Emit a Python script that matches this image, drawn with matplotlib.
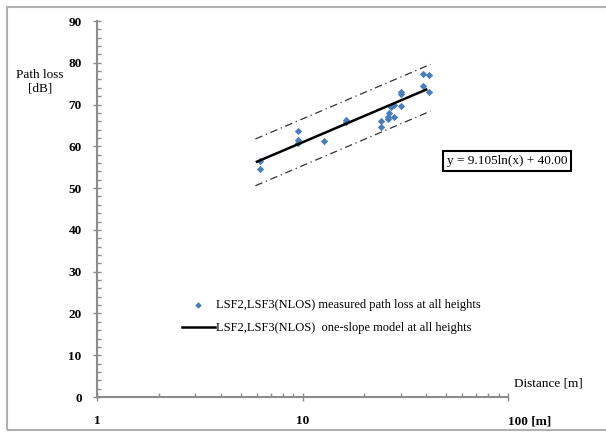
import numpy as np
import matplotlib.pyplot as plt
from matplotlib.patches import Rectangle
from matplotlib.ticker import FixedLocator, FixedFormatter, MultipleLocator

# measured path loss (NLOS, all heights)
dist = [6.2, 6.2, 9.5, 9.5, 9.5, 12.7, 16.3, 16.3, 24.0, 24.0,
        26.2, 26.5, 27.0, 27.8, 27.8, 26.2, 30.3, 30.3, 30.3,
        38.5, 38.5, 41.4, 41.4]
loss = [56.5, 54.5, 63.6, 61.6, 60.8, 61.2, 66.4, 65.8, 66.1, 64.7,
        67.0, 67.9, 69.5, 69.9, 67.0, 66.5, 73.0, 72.6, 69.6,
        77.4, 74.4, 77.0, 73.0]

# one-slope model y = a ln(x) + b, with +/- band
slope = 9.105
intercept = 40.00
band = 5.6
model_range = (6.0, 40.0)
band_range = (5.9, 42.0)

xticks = [1, 10, 100]
xticklabels = ['1', '10', '100 [m]']

serif = ['Liberation Serif', 'DejaVu Serif']
grey = '#8c8c8c'


def main():
    fig = plt.figure(figsize=(6.06, 4.34), dpi=100)
    ax = fig.add_axes([97 / 606, 1 - 397 / 434, (508 - 97) / 606, (397 - 21) / 434])

    ax.scatter(dist, loss, s=14, color='#4a7ebb', marker='D', linewidths=0,
               zorder=3,
               label='LSF2,LSF3(NLOS) measured path loss at all heights')

    xm = np.geomspace(*model_range, 100)
    ax.plot(xm, slope * np.log(xm) + intercept, color='black', lw=1.8,
            zorder=4, label='LSF2,LSF3(NLOS)  one-slope model at all heights')

    xb = np.geomspace(*band_range, 100)
    for off in (band, -band):
        ax.plot(xb, slope * np.log(xb) + intercept + off, color='#333333',
                lw=0.9, dashes=(6, 3, 1, 3))

    ax.set_xscale('log')
    ax.set_xlim(1, 100)
    ax.set_ylim(0, 90)

    ax.xaxis.set_major_locator(FixedLocator(xticks))
    ax.xaxis.set_major_formatter(FixedFormatter(xticklabels))
    ax.yaxis.set_major_locator(MultipleLocator(10))
    ax.yaxis.set_minor_locator(MultipleLocator(2))

    for side in ('top', 'right'):
        ax.spines[side].set_visible(False)
    for side in ('left', 'bottom'):
        ax.spines[side].set_color(grey)
        ax.spines[side].set_linewidth(1.5)

    ax.tick_params(which='major', direction='inout', length=6, color=grey,
                   width=1, labelsize=9.5, pad=8)
    ax.tick_params(which='minor', direction='in', length=3, color=grey,
                   width=1)
    ax.tick_params(axis='x', which='major', pad=10)
    for lab in ax.get_xticklabels() + ax.get_yticklabels():
        lab.set_family(serif)
        lab.set_fontweight('bold')
    ax.get_xticklabels()[-1].set_horizontalalignment('left')

    fig.text(40 / 606, 1 - 82 / 434, 'Path loss\n[dB]', ha='center',
             va='center', family=serif, fontsize=9.5, linespacing=1.2)
    fig.text(514 / 606, 1 - 383 / 434, 'Distance [m]', ha='left',
             va='center', family=serif, fontsize=9.5)

    ax.text(507 / 606, 1 - 161 / 434, 'y = 9.105ln(x) + 40.00',
            transform=fig.transFigure, ha='center', va='center',
            family=serif, fontsize=9.5,
            bbox=dict(boxstyle='square,pad=0.3', fc='white', ec='black',
                      lw=1.5))

    leg = ax.legend(loc='upper left', bbox_to_anchor=(0.18, 0.29),
                    frameon=False, prop={'family': serif, 'size': 9},
                    handlelength=2.6, handletextpad=0.1, labelspacing=0.9,
                    markerscale=0.9)

    fig.patches.append(Rectangle((7 / 606, 4 / 434), 1.0, 423 / 434,
                                 transform=fig.transFigure, fill=False,
                                 ec='#b0b0b0', lw=1.5))

    fig.savefig('out.png', dpi=100)


if __name__ == '__main__':
    main()
